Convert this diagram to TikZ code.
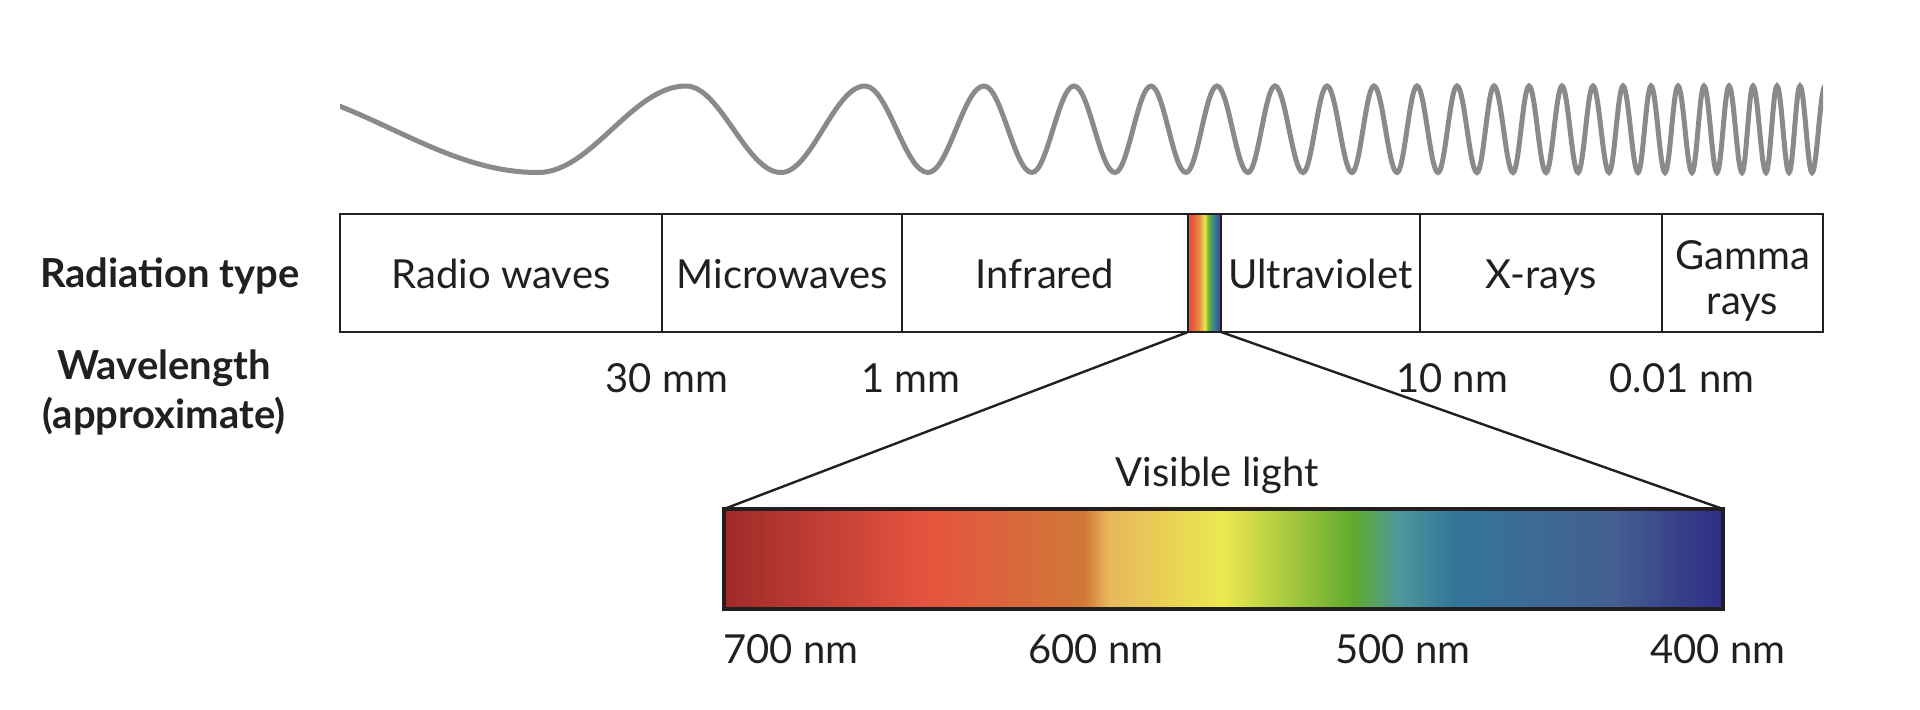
\documentclass[tikz,border=0pt]{standalone}
\usepackage{fontspec}
\setmainfont{Lato}
\usepackage{xcolor}
\usetikzlibrary{positioning, calc}
\definecolor{ink}{HTML}{231F20}
\definecolor{wavegray}{HTML}{8A8A8A}
%% visible spectrum
\definecolor{sp0}{HTML}{A02A2A}
\definecolor{sp1}{HTML}{E5533F}
\definecolor{sp2}{HTML}{D27738}
\definecolor{sp3}{HTML}{E6B95C}
\definecolor{sp4}{HTML}{ECE84E}
\definecolor{sp5}{HTML}{5FAB2E}
\definecolor{sp6}{HTML}{4F979C}
\definecolor{sp7}{HTML}{33769A}
\definecolor{sp8}{HTML}{445F90}
\definecolor{sp9}{HTML}{2E2D86}
%% thin strip in the band
\definecolor{st0}{HTML}{E4533F}
\definecolor{st1}{HTML}{E58C3F}
\definecolor{st2}{HTML}{EDE64E}
\definecolor{st3}{HTML}{62AC30}
\definecolor{st4}{HTML}{3A78A2}
\definecolor{st5}{HTML}{3A4B90}
\pgfdeclarehorizontalshading{visspec}{100bp}{color(0bp)=(sp0); color(25bp)=(sp0);
  color(35bp)=(sp1); color(43bp)=(sp2); color(44.25bp)=(sp3); color(50bp)=(sp4);
  color(56.5bp)=(sp5); color(58.75bp)=(sp6); color(61.5bp)=(sp7); color(69.5bp)=(sp8);
  color(75bp)=(sp9); color(100bp)=(sp9)}
\pgfdeclarehorizontalshading{stripspec}{100bp}{color(0bp)=(st0); color(25bp)=(st0);
  color(30bp)=(st0); color(42bp)=(st1); color(50bp)=(st2); color(57bp)=(st3);
  color(65bp)=(st4); color(75bp)=(st5); color(100bp)=(st5)}
\newcommand\lblfont{\fontsize{20}{21}\selectfont}
\tikzset{
  band/.style={rectangle, draw=ink, line width=1.3pt, outer sep=0pt, inner sep=0pt,
               minimum height=59pt, minimum width=#1, align=center, text=ink,
               font=\lblfont},
  band/.default=100pt,
  oneline/.style={text height=15pt, text depth=0pt},
  lbl/.style={font=\lblfont, text=ink, inner sep=0pt},
  head/.style={font=\lblfont\bfseries, text=ink, inner sep=0pt, align=center},
  wave/.style={line width=2.5pt, wavegray},
  link/.style={line width=1.2pt, ink},
}
\begin{document}
\begin{tikzpicture}[x=0.5pt, y=-0.5pt]
  \useasboundingbox (0,0) rectangle (1920,709);
  %% Wave
  \begin{scope}
    \clip (340,40) rectangle (1823,220);
    \draw[wave] (246,86)
      \foreach \t/\p [remember=\p as \q (initially 246)] in {538/686, 781/865,
        928/984, 1032/1074, 1115/1151, 1186/1217, 1248/1275, 1303/1327,
        1352/1374, 1397/1417, 1438/1457, 1477/1494, 1513/1529, 1546/1562,
        1578/1593, 1609/1623, 1638/1651, 1665/1678, 1692/1704, 1717/1729,
        1742/1753, 1766/1777, 1789/1800, 1812/1825}
      { cos ({(\q+\t)/2},129.25) sin (\t,172.5) cos ({(\t+\p)/2},129.25) sin (\p,86) };
  \end{scope}
  %% Radiation bands
  \node[band=161pt, oneline, anchor=west] (radio) at (340,273) {Radio waves};
  \node[band=120pt, oneline, right=0pt of radio] (micro) {Microwaves};
  \node[band=143pt, oneline, right=0pt of micro] (infra) {Infrared};
  \node[band=16.5pt, right=0pt of infra, shading=stripspec] (strip) {};
  \node[band=99.5pt, oneline, right=0pt of strip] (ultra) {Ultraviolet};
  \node[band=121pt, oneline, right=0pt of ultra] (xray) {X-rays};
  \node[band=80.5pt, right=0pt of xray, text depth=3.5pt] (gamma) {};
  \node[lbl, align=center, text depth=3.5pt, yshift=-3.75pt] (gammatxt)
    at (gamma) {Gamma\\[1.5pt]rays};
  %% Row labels
  \node[head] (radtype) at (170,275.5) {Radiation type};
  \node[head] (wavelen) at (164,392.5) {Wavelength\\[3.5pt](approximate)};
  \foreach \x/\t [count=\i] in {667/30 mm, 911/1 mm, 1452/10 nm, 1682/0.01 nm}
    \node[lbl] (wl\i) at (\x,378) {\t};
  %% Visible light
  \node[band=499.5pt, minimum height=50pt, line width=1.6pt, shading=visspec]
    (vis) at (1223.5,559) {};
  \node[lbl] (vislbl) at (1217,475.5) {Visible light};
  \draw[link] (strip.south west) -- (vis.north west);
  \draw[link] (strip.south east) -- (vis.north east);
  \foreach \x/\t in {791/700, 1096/600, 1403/500, 1718/400}
    \node[lbl] (nm\t) at (\x,649) {\t\ nm};
\end{tikzpicture}
\end{document}
